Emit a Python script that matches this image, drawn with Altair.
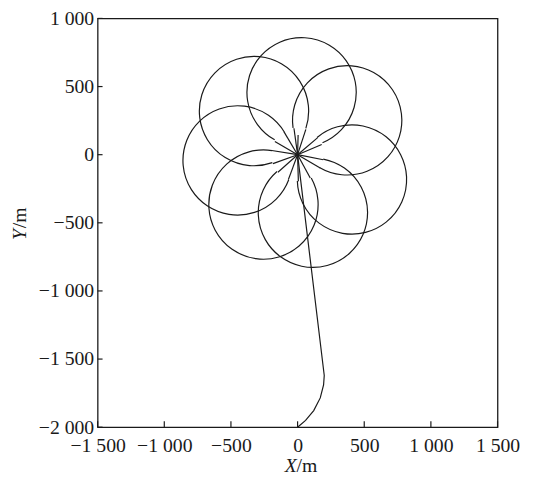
import altair as alt
import pandas as pd

# ---- data ----
# loiter circles (centre and radius, metres)
circle_x = [30, 372, 408, 115, -256, -450, -327]
circle_y = [458, 252, -182, -426, -366, -42, 320]
circle_r = [405, 405, 405, 405, 405, 405, 405]
# drawn part of each circle (degrees, 0 = up, clockwise)
arc_start = [-150.5, -98.0, -39.7, 10.9, 61.0, 110.7, -199.6]
arc_end = [157.5, 210.0, 268.3, 318.9, 369.0, 418.7, 108.4]

# straight legs from the centre point to each circle
spoke_x = [-170.6, 181.1, -27.3, 169.7, 150.8, 5.8, 192.5, -147.7, 95.0, -193.6, -69.3, -101.8, -184.6, 61.9]
spoke_y = [96.5, 75.0, 194.1, -98.0, 125.2, -195.9, -37.1, -128.9, -171.4, 30.7, -183.3, 167.5, -65.8, 186.0]

# approach path
path_x = [0, 60, 121, 170, 195, 200, 190, 0, 4, 0]
path_y = [-2000, -1950, -1878, -1785, -1690, -1620, -1540, 0, 145, 0]

x_ticks = [-1500, -1000, -500, 0, 500, 1000, 1500]
y_ticks = [-2000, -1500, -1000, -500, 0, 500, 1000]

W, H = 406, 415
FONT = "Liberation Serif"
INK = "#1a1a1a"

circles = pd.DataFrame({"cx": circle_x, "cy": circle_y, "r": circle_r,
                        "t1": arc_start, "t2": arc_end})
spokes = pd.DataFrame({"x0": [0] * len(spoke_x), "y0": [0] * len(spoke_y),
                       "x1": spoke_x, "y1": spoke_y})
path = pd.DataFrame({"x": path_x, "y": path_y, "i": list(range(len(path_x)))})
xt = pd.DataFrame({"v": x_ticks})
yt = pd.DataFrame({"v": y_ticks})

lab = "replace(format(datum.value, ','), ',', ' ')"
xscale = alt.Scale(domain=[-1500, 1500], nice=False, zero=False)
yscale = alt.Scale(domain=[-2000, 1000], nice=False, zero=False)
xaxis = alt.Axis(values=x_ticks, labelExpr=lab, title=None, labelPadding=9,
                 labelOverlap=False, labelFlush=False)
yaxis = alt.Axis(values=y_ticks, labelExpr=lab, title=None, labelPadding=4,
                 labelOverlap=False, labelFlush=False)

arcs = alt.Chart(circles).mark_arc(filled=False, stroke=INK, strokeWidth=1.2).encode(
    x=alt.X("cx:Q", scale=xscale, axis=xaxis),
    y=alt.Y("cy:Q", scale=yscale, axis=yaxis),
    radius=alt.Radius("r:Q", scale=alt.Scale(type="linear", domain=[0, 1000], range=[0, 137],
                                             nice=False, zero=True)),
    radius2=alt.Radius2("r:Q"),
    theta=alt.Theta("t1:Q", scale=alt.Scale(domain=[0, 360], range=[0, 6.283185307179586],
                                            nice=False, zero=False), stack=False),
    theta2=alt.Theta2("t2:Q"),
)

spoke_layer = alt.Chart(spokes).mark_rule(color=INK, strokeWidth=1.2).encode(
    x=alt.X("x0:Q", scale=xscale, axis=xaxis),
    x2="x1:Q",
    y=alt.Y("y0:Q", scale=yscale, axis=yaxis),
    y2="y1:Q",
)

path_layer = alt.Chart(path).mark_line(color=INK, strokeWidth=1.2).encode(
    x=alt.X("x:Q", scale=xscale, axis=xaxis),
    y=alt.Y("y:Q", scale=yscale, axis=yaxis),
    order="i:Q",
)

xtick_layer = alt.Chart(xt).mark_rule(color=INK, strokeWidth=1.2).encode(
    x=alt.X("v:Q", scale=xscale, axis=xaxis),
    y=alt.value(H), y2=alt.value(H - 6),
)
ytick_layer = alt.Chart(yt).mark_rule(color=INK, strokeWidth=1.2).encode(
    y=alt.Y("v:Q", scale=yscale, axis=yaxis),
    x=alt.value(0), x2=alt.value(5),
)

def txt(s, x, y, italic, angle=0):
    kw = dict(align="left", baseline="alphabetic", font=FONT, fontSize=20, color=INK)
    if italic:
        kw["fontStyle"] = "italic"
    if angle:
        kw["angle"] = angle
    return alt.Chart(pd.DataFrame({"t": [s]})).mark_text(**kw).encode(
        x=alt.value(x), y=alt.value(y), text="t:N")

titles = [
    txt("X", 190, 460, True),
    txt("/m", 202, 460, False),
    txt("Y", -73, 225, True, 270),
    txt("/m", -73, 213, False, 270),
]

chart = alt.layer(arcs, spoke_layer, path_layer, xtick_layer, ytick_layer, *titles).properties(
    width=W, height=H,
    autosize=alt.AutoSizeParams(type="none"),
    padding={"left": 91, "top": 7, "right": 36, "bottom": 49},
).configure_view(
    stroke=INK, strokeWidth=1.3
).configure_axis(
    domain=False, ticks=False, grid=False,
    labelFont=FONT, labelFontSize=20, labelColor=INK,
)

chart.save("out.html", embed_options={"renderer": "svg", "actions": False})
